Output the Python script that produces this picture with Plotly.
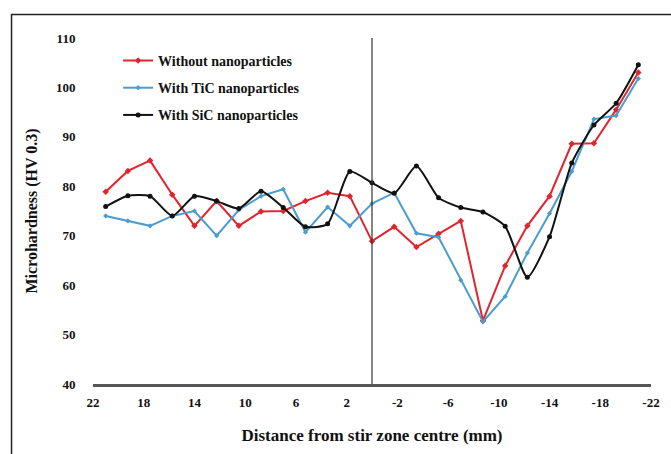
import plotly.graph_objects as go

distance = [21, 19.25, 17.5, 15.75, 14, 12.25, 10.5, 8.75, 7, 5.25, 3.5, 1.75, 0,
            -1.75, -3.5, -5.25, -7, -8.75, -10.5, -12.25, -14, -15.75, -17.5, -19.25, -21]
without_np = [78.9, 83.1, 85.2, 78.3, 72.0, 77.0, 72.0, 74.9, 75.0, 77.0, 78.7, 78.0, 68.9,
              71.8, 67.7, 70.4, 73.0, 52.8, 63.9, 72.0, 78.0, 88.6, 88.7, 95.5, 103.0]
with_tic = [74.0, 73.0, 72.0, 74.0, 75.0, 70.0, 75.2, 78.0, 79.4, 70.7, 75.8, 72.0, 76.5,
            78.7, 70.5, 69.7, 61.0, 52.6, 57.7, 66.5, 74.5, 83.0, 93.6, 94.3, 101.8]
with_sic = [75.9, 78.1, 78.0, 74.0, 78.0, 77.0, 75.5, 79.0, 75.7, 71.8, 72.4, 83.0, 80.7,
            78.6, 84.1, 77.7, 75.7, 74.8, 71.9, 61.6, 69.8, 84.7, 92.4, 96.8, 104.6]
x_ticks = [22, 18, 14, 10, 6, 2, -2, -6, -10, -14, -18, -22]
y_ticks = [40, 50, 60, 70, 80, 90, 100, 110]

FONT = "Liberation Serif"

fig = go.Figure()
fig.add_trace(go.Scatter(x=distance, y=without_np, name="Without nanoparticles",
                         mode="lines+markers", legendgroup="a",
                         line=dict(color="#e0252e", width=2),
                         marker=dict(symbol="diamond", size=5, color="#e0252e")))
fig.add_trace(go.Scatter(x=distance, y=with_tic, name="With TiC nanoparticles",
                         mode="lines+markers", legendgroup="b",
                         line=dict(color="#4d9dcc", width=2),
                         marker=dict(symbol="diamond", size=4, color="#4d9dcc")))
fig.add_trace(go.Scatter(x=distance, y=with_sic, name="With SiC nanoparticles",
                         mode="lines+markers", legendgroup="c",
                         line=dict(color="#111111", width=2, shape="spline", smoothing=0.6),
                         marker=dict(symbol="circle", size=5, color="#111111")))

# vertical line at the stir zone centre
fig.add_shape(type="line", xref="x", yref="y", x0=0, x1=0, y0=40, y1=110,
              line=dict(color="#333333", width=1.2))
# outer frame
fig.add_shape(type="rect", xref="paper", yref="paper", x0=-0.146, x1=1.2, y0=-0.4, y1=1.068,
              line=dict(color="#222222", width=1.5), layer="below")

fig.update_layout(
    width=671, height=454,
    margin=dict(l=93, r=11, t=38, b=70),
    paper_bgcolor="white", plot_bgcolor="white",
    font=dict(family=FONT, color="#111111"),
    showlegend=True,
    legend=dict(x=0.045, y=0.98, xanchor="left", yanchor="top",
                bgcolor="rgba(0,0,0,0)", itemwidth=30, tracegroupgap=6,
                font=dict(family=FONT, size=14, weight="bold", color="#111111")),
    xaxis=dict(range=[22, -22], tickmode="array", tickvals=x_ticks,
               ticktext=[str(v) for v in x_ticks],
               showgrid=False, zeroline=False, showline=True,
               linecolor="#555555", linewidth=2.5,
               ticks="outside", ticklen=5, tickcolor="rgba(0,0,0,0)",
               tickfont=dict(family=FONT, size=13, weight="bold", color="#111111"),
               title=dict(text="Distance from stir zone centre (mm)", standoff=20,
                          font=dict(family=FONT, size=17, weight="bold", color="#111111"))),
    yaxis=dict(range=[40, 110], tickmode="array", tickvals=y_ticks,
               showgrid=False, zeroline=False, showline=False,
               ticks="outside", ticklen=14, tickcolor="rgba(0,0,0,0)",
               tickfont=dict(family=FONT, size=13, weight="bold", color="#111111"),
               title=dict(text="Microhardness (HV 0.3)", standoff=14,
                          font=dict(family=FONT, size=16, weight="bold", color="#111111"))),
)

fig.write_html("out.html")
